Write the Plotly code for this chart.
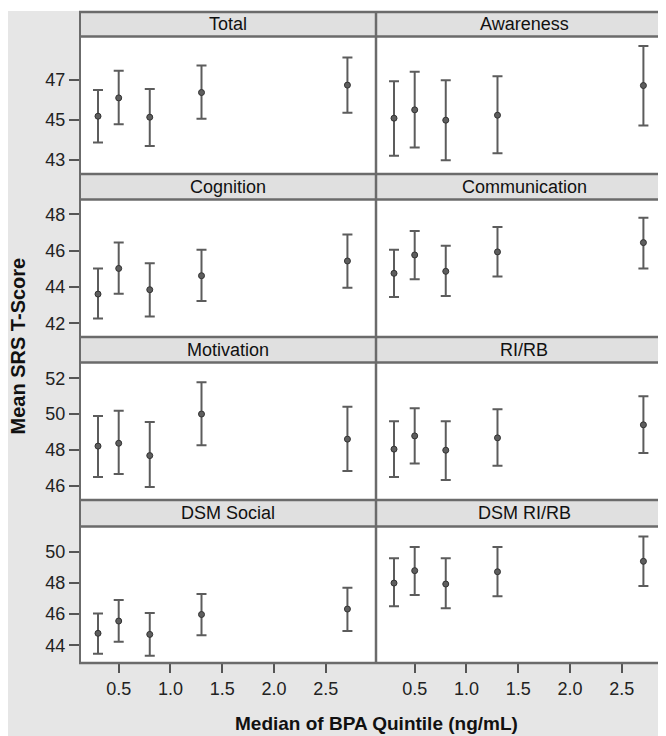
import plotly.graph_objects as go

# ---------------- data ----------------
bpa_median = [0.30, 0.50, 0.80, 1.30, 2.71]

panel_titles = ["Total", "Awareness", "Cognition", "Communication",
                "Motivation", "RI/RB", "DSM Social", "DSM RI/RB"]

total_mean = [45.18, 46.10, 45.13, 46.37, 46.74]
total_upper = [46.49, 47.46, 46.54, 47.72, 48.12]
total_lower = [43.86, 44.78, 43.69, 45.05, 45.35]

awareness_mean = [45.08, 45.50, 44.98, 45.23, 46.72]
awareness_upper = [46.94, 47.41, 46.99, 47.19, 48.70]
awareness_lower = [43.19, 43.61, 42.97, 43.32, 44.71]

cognition_mean = [43.61, 45.02, 43.85, 44.62, 45.43]
cognition_upper = [45.02, 46.45, 45.30, 46.05, 46.88]
cognition_lower = [42.27, 43.63, 42.38, 43.23, 43.96]

communication_mean = [44.75, 45.76, 44.86, 45.93, 46.44]
communication_upper = [46.05, 47.08, 46.27, 47.30, 47.80]
communication_lower = [43.45, 44.42, 43.50, 44.58, 45.02]

motivation_mean = [48.21, 48.37, 47.68, 50.00, 48.60]
motivation_upper = [49.89, 50.18, 49.55, 51.78, 50.41]
motivation_lower = [46.49, 46.65, 45.93, 48.26, 46.82]

rirb_mean = [48.04, 48.78, 47.98, 48.67, 49.40]
rirb_upper = [49.60, 50.33, 49.60, 50.27, 51.00]
rirb_lower = [46.49, 47.24, 46.32, 47.12, 47.82]

dsm_social_mean = [44.77, 45.56, 44.70, 45.98, 46.33]
dsm_social_upper = [46.04, 46.92, 46.08, 47.30, 47.70]
dsm_social_lower = [43.46, 44.23, 43.33, 44.64, 44.92]

dsm_rirb_mean = [48.00, 48.80, 47.94, 48.73, 49.40]
dsm_rirb_upper = [49.59, 50.32, 49.59, 50.32, 51.00]
dsm_rirb_lower = [46.51, 47.23, 46.38, 47.15, 47.81]

x_tick_vals = [0.5, 1.0, 1.5, 2.0, 2.5]
x_tick_text = ["0.5", "1.0", "1.5", "2.0", "2.5"]
row_y_ticks = [[43, 45, 47], [42, 44, 46, 48], [46, 48, 50, 52], [44, 46, 48, 50]]

# ---------------- layout geometry (page pixel coords) ----------------
W, H = 650, 736
OFF = 8  # page body margin
FONT = "Arial, Liberation Sans, sans-serif"
BORDER = "#6b6b6b"
STRIP_FILL = "#e0e0e0"
BG = "#e6e6e6"

def px_x(v):
    return (v - OFF) / W

def px_y(v):
    return 1 - (v - OFF) / H

col_px = [(80, 376), (376, 658)]
strip_px = [(12, 36.5), (174, 199.5), (337, 362.5), (500, 526.5)]
plot_px = [(36.5, 174), (199.5, 337), (362.5, 500), (526.5, 663)]
y_ranges = [[42.28, 49.18], [41.25, 48.81], [45.20, 52.88], [42.86, 51.64]]
x_ranges = [[0.126, 2.986], [0.126, 2.851]]

series = [
    (total_mean, total_upper, total_lower),
    (awareness_mean, awareness_upper, awareness_lower),
    (cognition_mean, cognition_upper, cognition_lower),
    (communication_mean, communication_upper, communication_lower),
    (motivation_mean, motivation_upper, motivation_lower),
    (rirb_mean, rirb_upper, rirb_lower),
    (dsm_social_mean, dsm_social_upper, dsm_social_lower),
    (dsm_rirb_mean, dsm_rirb_upper, dsm_rirb_lower),
]

fig = go.Figure()
layout_axes = {}
shapes = []
annotations = []

# thin white band at the very top
shapes.append(dict(type="rect", xref="paper", yref="paper", x0=-0.05, x1=1.05,
                   y0=px_y(11), y1=1.05, fillcolor="white", line=dict(width=0), layer="below"))

for i, (m, up, lo) in enumerate(series):
    r, c = divmod(i, 2)
    k = i + 1
    xa = "x" if k == 1 else f"x{k}"
    ya = "y" if k == 1 else f"y{k}"
    fig.add_trace(go.Scatter(
        x=bpa_median, y=m, mode="markers", xaxis=xa, yaxis=ya, showlegend=False,
        marker=dict(size=6, color="#5e5e5e", line=dict(color="#333333", width=1)),
        error_y=dict(type="data", symmetric=False,
                     array=[u - v for u, v in zip(up, m)],
                     arrayminus=[v - l for v, l in zip(m, lo)],
                     color="#5c5c5c", thickness=2, width=5),
    ))
    x0, x1 = col_px[c]
    yt, yb = plot_px[r]
    bottom = (r == 3)
    left = (c == 0)
    layout_axes[f"xaxis{k if k > 1 else ''}"] = dict(
        domain=[px_x(x0), min(1.0, px_x(x1))], range=x_ranges[c], anchor=ya,
        showgrid=False, zeroline=False, showline=False,
        tickvals=x_tick_vals, ticktext=x_tick_text, showticklabels=bottom,
        ticks="outside" if bottom else "", ticklen=9, tickwidth=1.5, tickcolor="#555555",
        tickfont=dict(family=FONT, size=18, color="#222222"), fixedrange=True,
    )
    layout_axes[f"yaxis{k if k > 1 else ''}"] = dict(
        domain=[px_y(yb), px_y(yt)], range=y_ranges[r], anchor=xa,
        showgrid=False, zeroline=False, showline=False,
        tickvals=row_y_ticks[r], showticklabels=left,
        ticks="outside" if left else "", ticklen=10, tickwidth=1.5, tickcolor="#555555",
        tickfont=dict(family=FONT, size=18, color="#222222"), fixedrange=True,
    )
    # strip background
    st, sb = strip_px[r]
    shapes.append(dict(type="rect", xref="paper", yref="paper", x0=px_x(x0),
                       x1=(1.02 if c == 1 else px_x(x1)),
                       y0=px_y(sb), y1=px_y(st), fillcolor=STRIP_FILL,
                       line=dict(width=0), layer="below"))
    annotations.append(dict(text=panel_titles[i], xref="paper", yref="paper",
                            x=px_x(228 if c == 0 else 524), y=px_y((st + sb) / 2),
                            xanchor="center", yanchor="middle", showarrow=False,
                            font=dict(family=FONT, size=18, color="#111111")))

# border lines
for y in [12, 36.5, 174, 199.5, 337, 362.5, 500, 526.5, 663]:
    shapes.append(dict(type="line", xref="paper", yref="paper", x0=px_x(79), x1=1.02,
                       y0=px_y(y), y1=px_y(y), line=dict(color=BORDER, width=2.5), layer="above"))
for x in [80, 376]:
    shapes.append(dict(type="line", xref="paper", yref="paper", x0=px_x(x), x1=px_x(x),
                       y0=px_y(663), y1=px_y(12), line=dict(color=BORDER, width=2 if x == 80 else 2.5),
                       layer="above"))

annotations.append(dict(text="<b>Mean SRS T-Score</b>", xref="paper", yref="paper",
                        x=px_x(17.5), y=px_y(346), textangle=-90, showarrow=False,
                        xanchor="center", yanchor="middle",
                        font=dict(family=FONT, size=20, color="#111111")))
annotations.append(dict(text="<b>Median of BPA Quintile (ng/mL)</b>", xref="paper", yref="paper",
                        x=px_x(376), y=px_y(723), showarrow=False,
                        xanchor="center", yanchor="middle",
                        font=dict(family=FONT, size=19, color="#111111")))

fig.update_layout(
    width=W, height=H, autosize=False,
    margin=dict(l=0, r=0, t=0, b=0),
    paper_bgcolor=BG, plot_bgcolor="white",
    shapes=shapes, annotations=annotations,
    **layout_axes,
)

fig.write_html("out.html")
